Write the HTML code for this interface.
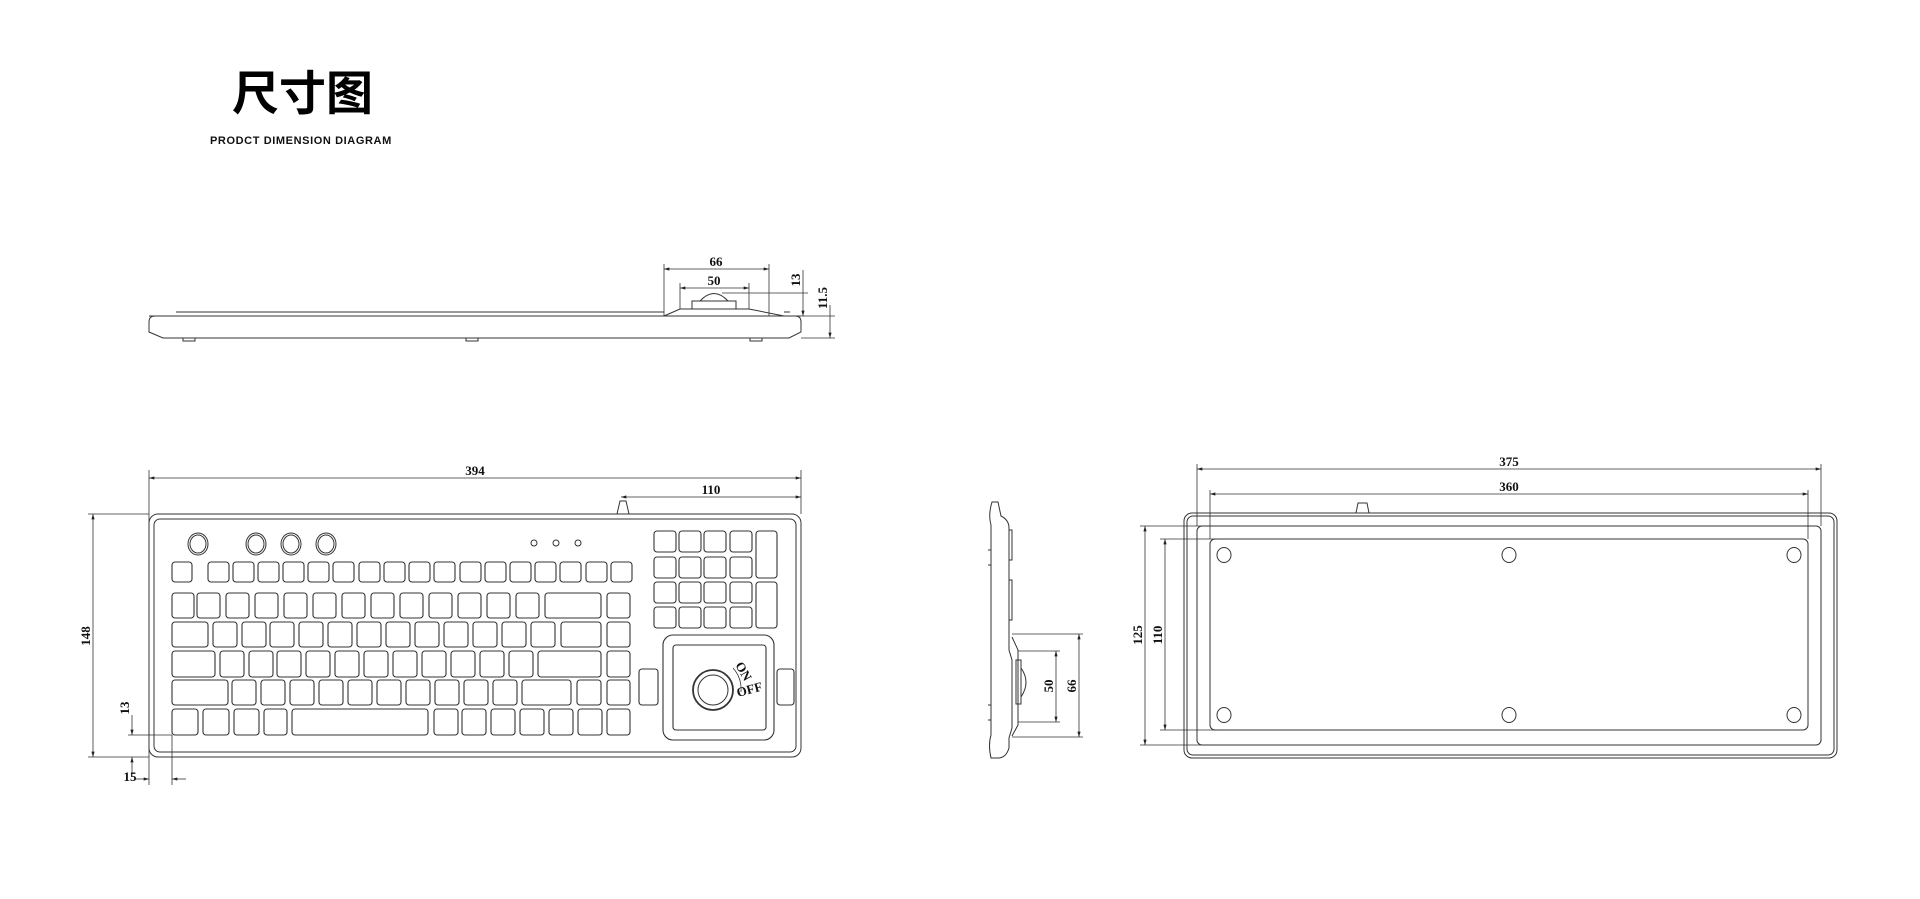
<!DOCTYPE html>
<html><head><meta charset="utf-8"><style>
html,body{margin:0;padding:0;background:#fff;width:1920px;height:899px;overflow:hidden}
.t{position:absolute;left:232px;top:62px;font:bold 47px "Noto Sans CJK SC",sans-serif;letter-spacing:0px;color:#000;line-height:56px}
.s{position:absolute;left:210px;top:135px;font:600 11px "Liberation Sans","DejaVu Sans",sans-serif;letter-spacing:0.6px;color:#111}
svg{position:absolute;left:0;top:0}
text{font-family:"Liberation Serif",serif;font-size:13px;fill:#111;font-weight:bold}
</style></head><body>
<div class="t">尺寸图</div>
<div class="s">PRODCT DIMENSION DIAGRAM</div>
<svg width="1920" height="899" viewBox="0 0 1920 899">
<defs>
<marker id="a" viewBox="0 0 10 6" refX="10" refY="3" markerWidth="7" markerHeight="4" orient="auto-start-reverse"><path d="M0,0L10,3L0,6z" fill="#222"/></marker>
</defs>
<g fill="none" stroke="#333" stroke-width="1">
<path d="M155,316 H795 Q801,316 801,322 V332 L789,338 H163 L149,332 V322 Q149,316 155,316 Z"/>
<path d="M176,312 H664 M784,312 H790"/>
<line x1="149" y1="316" x2="801" y2="316"/>
<path d="M664,316 L680,309 H749 L784,316"/>
<rect x="692" y="301" width="44" height="8"/>
<path d="M700,301 Q714,286 728,301"/>
<rect x="183" y="338" width="12" height="3"/><rect x="466" y="338" width="12" height="3"/><rect x="750" y="338" width="12" height="3"/>
<g stroke-width="0.8">
<line x1="664" y1="264" x2="664" y2="316"/><line x1="769" y1="264" x2="769" y2="316"/>
<line x1="664" y1="269" x2="769" y2="269" marker-start="url(#a)" marker-end="url(#a)"/>
<line x1="680" y1="283" x2="680" y2="309"/><line x1="749" y1="283" x2="749" y2="309"/>
<line x1="680" y1="288" x2="749" y2="288" marker-start="url(#a)" marker-end="url(#a)"/>
<line x1="722" y1="293" x2="808" y2="293"/>
<line x1="803" y1="270" x2="803" y2="316" marker-end="url(#a)"/>
<line x1="801" y1="316" x2="835" y2="316"/><line x1="801" y1="338" x2="835" y2="338"/>
<line x1="830" y1="305" x2="830" y2="338" marker-end="url(#a)"/>
</g>
<rect x="149" y="514" width="652" height="243" rx="9"/>
<rect x="154" y="519" width="642" height="233" rx="6"/>
<path d="M617,514 L620,501 H626 L629,514"/>
<g stroke-width="0.8">
<line x1="149" y1="470" x2="149" y2="785"/><line x1="801" y1="470" x2="801" y2="514"/>
<line x1="149" y1="478" x2="801" y2="478" marker-start="url(#a)" marker-end="url(#a)"/>
<line x1="621" y1="497" x2="801" y2="497" marker-start="url(#a)" marker-end="url(#a)"/>
<line x1="88" y1="514" x2="149" y2="514"/><line x1="88" y1="757" x2="149" y2="757"/>
<line x1="93" y1="514" x2="93" y2="757" marker-start="url(#a)" marker-end="url(#a)"/>
<line x1="128" y1="735" x2="172" y2="735"/><line x1="172" y1="735" x2="172" y2="785"/>
<line x1="132" y1="715" x2="132" y2="735" marker-end="url(#a)"/>
<line x1="132" y1="777" x2="132" y2="757" marker-end="url(#a)"/>
<line x1="135" y1="779" x2="149" y2="779" marker-end="url(#a)"/>
<line x1="186" y1="779" x2="172" y2="779" marker-end="url(#a)"/>
</g>
<g>
<ellipse cx="198" cy="544" rx="10" ry="11"/><ellipse cx="198" cy="544" rx="8" ry="9"/>
<ellipse cx="256" cy="544" rx="10" ry="11"/><ellipse cx="256" cy="544" rx="8" ry="9"/>
<ellipse cx="291" cy="544" rx="10" ry="11"/><ellipse cx="291" cy="544" rx="8" ry="9"/>
<ellipse cx="326" cy="544" rx="10" ry="11"/><ellipse cx="326" cy="544" rx="8" ry="9"/>
<circle cx="534" cy="543" r="3"/><circle cx="556" cy="543" r="3"/><circle cx="578" cy="543" r="3"/>
</g>
<g stroke-width="1.1">
<rect x="172" y="562" width="20" height="20" rx="3"/>
<rect x="208" y="562" width="21" height="20" rx="3"/><rect x="233" y="562" width="21" height="20" rx="3"/><rect x="258" y="562" width="21" height="20" rx="3"/><rect x="283" y="562" width="21" height="20" rx="3"/><rect x="308" y="562" width="21" height="20" rx="3"/><rect x="333" y="562" width="21" height="20" rx="3"/><rect x="359" y="562" width="21" height="20" rx="3"/><rect x="384" y="562" width="21" height="20" rx="3"/><rect x="409" y="562" width="21" height="20" rx="3"/><rect x="434" y="562" width="21" height="20" rx="3"/><rect x="460" y="562" width="21" height="20" rx="3"/><rect x="485" y="562" width="21" height="20" rx="3"/><rect x="510" y="562" width="21" height="20" rx="3"/><rect x="535" y="562" width="21" height="20" rx="3"/><rect x="560" y="562" width="21" height="20" rx="3"/><rect x="586" y="562" width="21" height="20" rx="3"/><rect x="611" y="562" width="21" height="20" rx="3"/>
<rect x="172" y="593" width="22" height="25" rx="3"/><rect x="197" y="593" width="23" height="25" rx="3"/><rect x="226" y="593" width="23" height="25" rx="3"/><rect x="255" y="593" width="23" height="25" rx="3"/><rect x="284" y="593" width="23" height="25" rx="3"/><rect x="313" y="593" width="23" height="25" rx="3"/><rect x="342" y="593" width="23" height="25" rx="3"/><rect x="371" y="593" width="23" height="25" rx="3"/><rect x="400" y="593" width="23" height="25" rx="3"/><rect x="429" y="593" width="23" height="25" rx="3"/><rect x="458" y="593" width="23" height="25" rx="3"/><rect x="487" y="593" width="23" height="25" rx="3"/><rect x="516" y="593" width="23" height="25" rx="3"/><rect x="545" y="593" width="56" height="25" rx="3"/><rect x="607" y="593" width="23" height="25" rx="3"/>
<rect x="172" y="622" width="36" height="25" rx="3"/><rect x="213" y="622" width="24" height="25" rx="3"/><rect x="242" y="622" width="24" height="25" rx="3"/><rect x="270" y="622" width="24" height="25" rx="3"/><rect x="299" y="622" width="24" height="25" rx="3"/><rect x="328" y="622" width="24" height="25" rx="3"/><rect x="357" y="622" width="24" height="25" rx="3"/><rect x="386" y="622" width="24" height="25" rx="3"/><rect x="415" y="622" width="24" height="25" rx="3"/><rect x="444" y="622" width="24" height="25" rx="3"/><rect x="473" y="622" width="24" height="25" rx="3"/><rect x="502" y="622" width="24" height="25" rx="3"/><rect x="531" y="622" width="24" height="25" rx="3"/><rect x="561" y="622" width="40" height="25" rx="3"/><rect x="607" y="622" width="23" height="25" rx="3"/>
<rect x="172" y="651" width="43" height="26" rx="3"/><rect x="220" y="651" width="24" height="26" rx="3"/><rect x="249" y="651" width="24" height="26" rx="3"/><rect x="277" y="651" width="24" height="26" rx="3"/><rect x="306" y="651" width="24" height="26" rx="3"/><rect x="335" y="651" width="24" height="26" rx="3"/><rect x="364" y="651" width="24" height="26" rx="3"/><rect x="393" y="651" width="24" height="26" rx="3"/><rect x="422" y="651" width="24" height="26" rx="3"/><rect x="451" y="651" width="24" height="26" rx="3"/><rect x="480" y="651" width="24" height="26" rx="3"/><rect x="509" y="651" width="24" height="26" rx="3"/><rect x="538" y="651" width="63" height="26" rx="3"/><rect x="607" y="651" width="23" height="26" rx="3"/>
<rect x="172" y="680" width="56" height="25" rx="3"/><rect x="232" y="680" width="24" height="25" rx="3"/><rect x="261" y="680" width="24" height="25" rx="3"/><rect x="290" y="680" width="24" height="25" rx="3"/><rect x="319" y="680" width="24" height="25" rx="3"/><rect x="348" y="680" width="24" height="25" rx="3"/><rect x="377" y="680" width="24" height="25" rx="3"/><rect x="406" y="680" width="24" height="25" rx="3"/><rect x="435" y="680" width="24" height="25" rx="3"/><rect x="464" y="680" width="24" height="25" rx="3"/><rect x="493" y="680" width="24" height="25" rx="3"/><rect x="522" y="680" width="49" height="25" rx="3"/><rect x="577" y="680" width="24" height="25" rx="3"/><rect x="607" y="680" width="23" height="25" rx="3"/>
<rect x="172" y="709" width="26" height="26" rx="3"/><rect x="203" y="709" width="26" height="26" rx="3"/><rect x="234" y="709" width="25" height="26" rx="3"/><rect x="264" y="709" width="23" height="26" rx="3"/><rect x="292" y="709" width="136" height="26" rx="3"/><rect x="434" y="709" width="24" height="26" rx="3"/><rect x="462" y="709" width="24" height="26" rx="3"/><rect x="491" y="709" width="24" height="26" rx="3"/><rect x="520" y="709" width="24" height="26" rx="3"/><rect x="549" y="709" width="24" height="26" rx="3"/><rect x="578" y="709" width="24" height="26" rx="3"/><rect x="607" y="709" width="23" height="26" rx="3"/>
<rect x="654" y="531" width="22" height="21" rx="3"/><rect x="679" y="531" width="22" height="21" rx="3"/><rect x="704" y="531" width="22" height="21" rx="3"/><rect x="730" y="531" width="22" height="21" rx="3"/>
<rect x="654" y="557" width="22" height="21" rx="3"/><rect x="679" y="557" width="22" height="21" rx="3"/><rect x="704" y="557" width="22" height="21" rx="3"/><rect x="730" y="557" width="22" height="21" rx="3"/>
<rect x="654" y="582" width="22" height="21" rx="3"/><rect x="679" y="582" width="22" height="21" rx="3"/><rect x="704" y="582" width="22" height="21" rx="3"/><rect x="730" y="582" width="22" height="21" rx="3"/>
<rect x="654" y="607" width="22" height="21" rx="3"/><rect x="679" y="607" width="22" height="21" rx="3"/><rect x="704" y="607" width="22" height="21" rx="3"/><rect x="730" y="607" width="22" height="21" rx="3"/>
<rect x="756" y="531" width="21" height="47" rx="3"/><rect x="756" y="582" width="21" height="46" rx="3"/>
<rect x="663" y="635" width="111" height="105" rx="10"/>
<rect x="673" y="645" width="93" height="85" rx="3"/>
<rect x="639" y="669" width="19" height="36" rx="3"/><rect x="777" y="669" width="17" height="36" rx="3"/>
</g>
<circle cx="713" cy="690" r="20" stroke-width="1.8"/><circle cx="713" cy="690" r="15"/>
<path d="M733,668 Q742,678 741,692" stroke-width="0.8"/>
<path d="M992,502 H998 L1001,516 Q1009,520 1009,528 V650 L1012,660 V728 L1009,738 V748 Q1006,758 998,758 H991 Q988,745 991,735 V525 Q988,515 992,502 Z"/>
<path d="M1009,530 H1012 V560 H1009 M1009,580 H1012 V620 H1009 M988,550 H991 V565 H988 M988,705 H991 V720 H988"/>
<path d="M1012,637 L1018,650 V725 L1012,736"/>
<rect x="1016" y="660" width="5" height="44"/>
<path d="M1021,668 Q1031,682 1021,697"/>
<g stroke-width="0.8">
<line x1="1012" y1="634" x2="1083" y2="634"/><line x1="1012" y1="737" x2="1083" y2="737"/>
<line x1="1079" y1="634" x2="1079" y2="737" marker-start="url(#a)" marker-end="url(#a)"/>
<line x1="1018" y1="651" x2="1060" y2="651"/><line x1="1018" y1="722" x2="1060" y2="722"/>
<line x1="1056" y1="651" x2="1056" y2="722" marker-start="url(#a)" marker-end="url(#a)"/>
</g>
<rect x="1184" y="513" width="653" height="245" rx="8"/>
<rect x="1187" y="516" width="647" height="239" rx="6"/>
<rect x="1197" y="526" width="624" height="219" rx="5"/>
<rect x="1210" y="539" width="598" height="191" rx="5"/>
<path d="M1356,513 L1358,503 H1367 L1369,513"/>
<g>
<ellipse cx="1224" cy="555" rx="7" ry="7.5"/><ellipse cx="1509" cy="555" rx="7" ry="7.5"/><ellipse cx="1794" cy="555" rx="7" ry="7.5"/>
<ellipse cx="1224" cy="715" rx="7" ry="7.5"/><ellipse cx="1509" cy="715" rx="7" ry="7.5"/><ellipse cx="1794" cy="715" rx="7" ry="7.5"/>
</g>
<g stroke-width="0.8">
<line x1="1197" y1="464" x2="1197" y2="526"/><line x1="1821" y1="464" x2="1821" y2="526"/>
<line x1="1197" y1="469" x2="1821" y2="469" marker-start="url(#a)" marker-end="url(#a)"/>
<line x1="1210" y1="490" x2="1210" y2="539"/><line x1="1808" y1="490" x2="1808" y2="539"/>
<line x1="1210" y1="494" x2="1808" y2="494" marker-start="url(#a)" marker-end="url(#a)"/>
<line x1="1140" y1="526" x2="1217" y2="526"/><line x1="1140" y1="745" x2="1217" y2="745"/>
<line x1="1145" y1="526" x2="1145" y2="745" marker-start="url(#a)" marker-end="url(#a)"/>
<line x1="1160" y1="539" x2="1222" y2="539"/><line x1="1160" y1="730" x2="1222" y2="730"/>
<line x1="1165" y1="539" x2="1165" y2="730" marker-start="url(#a)" marker-end="url(#a)"/>
</g>
</g>
<text x="716" y="266" text-anchor="middle">66</text>
<text x="714" y="285" text-anchor="middle">50</text>
<text transform="translate(800,280) rotate(-90)" text-anchor="middle">13</text>
<text transform="translate(827,298) rotate(-90)" text-anchor="middle">11.5</text>
<text x="475" y="475" text-anchor="middle">394</text>
<text x="711" y="494" text-anchor="middle">110</text>
<text transform="translate(90,636) rotate(-90)" text-anchor="middle">148</text>
<text transform="translate(129,708) rotate(-90)" text-anchor="middle">13</text>
<text x="130" y="781" text-anchor="middle">15</text>
<text transform="translate(1053,686) rotate(-90)" text-anchor="middle">50</text>
<text transform="translate(1076,686) rotate(-90)" text-anchor="middle">66</text>
<text x="1509" y="466" text-anchor="middle">375</text>
<text x="1509" y="491" text-anchor="middle">360</text>
<text transform="translate(1142,635) rotate(-90)" text-anchor="middle">125</text>
<text transform="translate(1162,635) rotate(-90)" text-anchor="middle">110</text>
<text transform="translate(735,665) rotate(60)" font-size="4">ON</text>
<text transform="translate(738,697) rotate(-15)" font-size="4">OFF</text>
</svg>
</body></html>
